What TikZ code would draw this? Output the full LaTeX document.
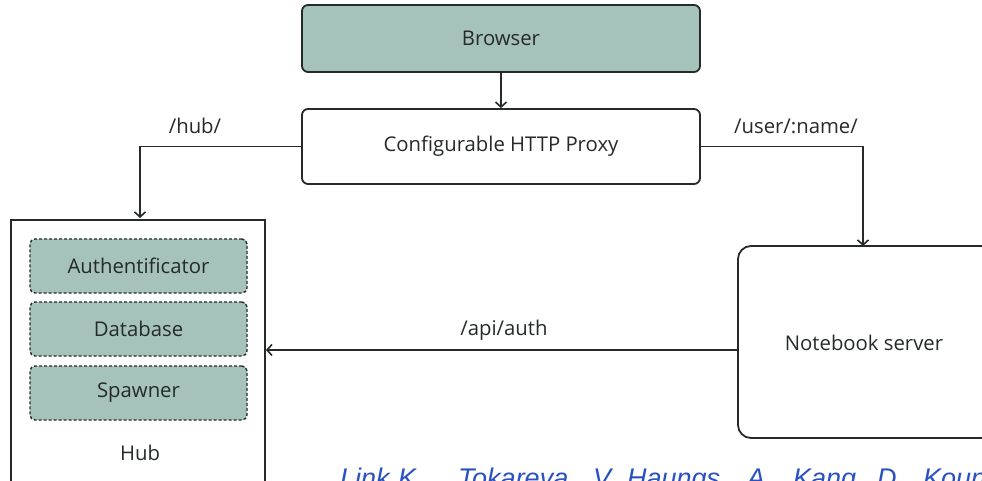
\documentclass[tikz,border=0pt]{standalone}
\usepackage{fontspec}
\setmainfont{Open Sans}
\newfontfamily\citefont{Liberation Sans}
\usetikzlibrary{arrows.meta}
\definecolor{boxfill}{HTML}{A5C3BB}
\definecolor{ink}{HTML}{262A29}
\definecolor{citeblue}{HTML}{2B50C0}
\tikzset{
  x=1pt, y=-1pt,
  every node/.style={font=\fontsize{20.3}{22}\selectfont, text=ink},
  solidbox/.style={draw=ink, line width=1.8pt, rounded corners=6pt, inner sep=0pt},
  subbox/.style={draw=ink, line width=1.4pt, dashed, dash pattern=on 3pt off 2pt, rounded corners=5pt, fill=boxfill, inner sep=0pt, minimum width=217pt, minimum height=54pt},
  link/.style={draw=ink, line width=1.6pt, -{Straight Barb[length=5pt,width=11pt,line width=1.6pt]}},
  tag/.style={inner sep=0pt}
}
\begin{document}
\begin{tikzpicture}
\useasboundingbox (0,0) rectangle (982,481);
\fill[white] (0,0) rectangle (982,481);

% top row
\node[solidbox, fill=boxfill, minimum width=398pt, minimum height=67pt] (browser) at (501,38.5) {Browser};
\node[solidbox, fill=white, minimum width=398pt, minimum height=75pt] (proxy) at (501,146.5) {Configurable HTTP Proxy};

% hub with its parts
\node[draw=ink, line width=1.8pt, inner sep=0pt, minimum width=254pt, minimum height=290pt] (hub) at (138,365) {};
\node[subbox] (auth) at (138.5,266) {Authentificator};
\node[subbox] (db) at (138.5,329) {Database};
\node[subbox] (spawn) at (138.5,393) {Spawner};
\node[tag] (hubname) at (140,453) {Hub};

% notebook server
\node[solidbox, rounded corners=13pt, fill=white, minimum width=256pt, minimum height=192pt] (nb) at (866,342) {};
\node[tag] (nbname) at (864,343) {Notebook server};

% connectors
\coordinate (hubdrop) at (140,218);
\coordinate (nbdrop) at (863,246);
\coordinate (apiy) at (0,350);
\draw[link] (browser.south) -- (proxy.north);
\draw[link] (proxy.west) -| (hubdrop);
\draw[link] (proxy.east) -| (nbdrop);
\draw[link] (nb.west |- apiy) -- (hub.east |- apiy);

% route labels
\node[tag] (lhub) at (195,126) {/hub/};
\node[tag] (luser) at (796,126) {/user/:name/};
\node[tag] (lapi) at (504,330) {/api/auth};

% source line
\node[tag, anchor=base west, font=\fontsize{27}{30}\citefont\itshape, text=citeblue] (cite) at (340,487)
  {\makebox[58pt][l]{Link}\makebox[60pt][l]{K.,}\makebox[135pt][l]{Tokareva}\makebox[34pt][l]{V.,}\makebox[120pt][l]{Haungs}\makebox[46pt][l]{A.,}\makebox[84pt][l]{Kang}\makebox[46pt][l]{D.,}Kounev};
\end{tikzpicture}
\end{document}
